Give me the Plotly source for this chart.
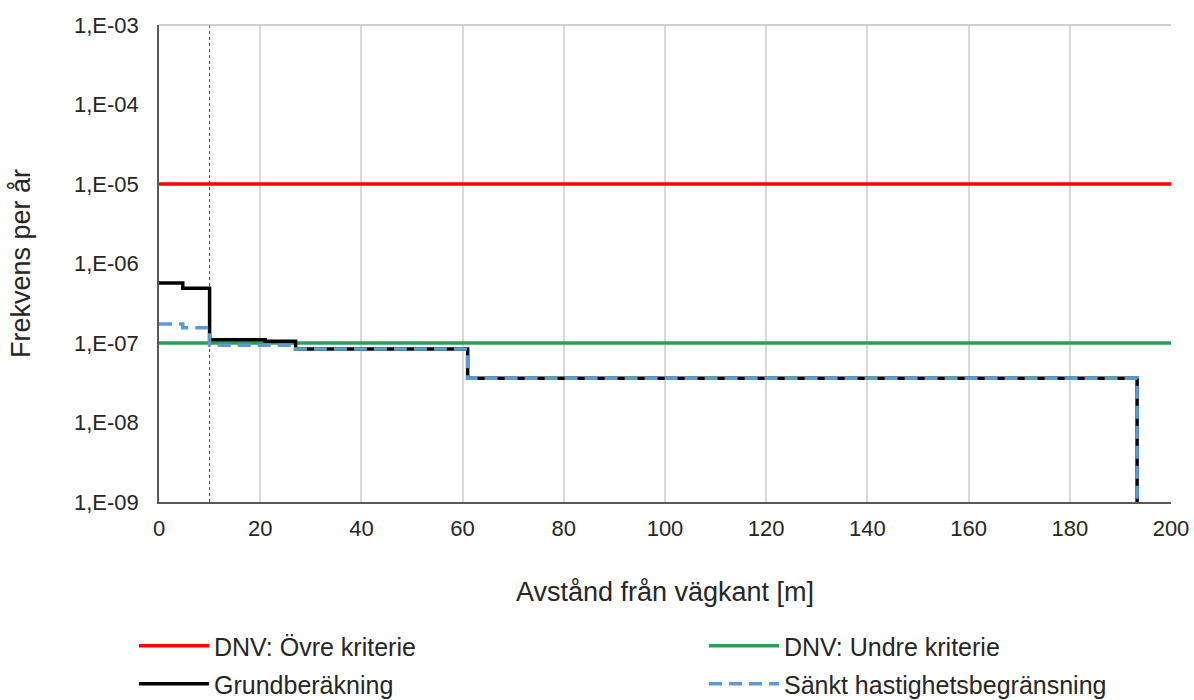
import plotly.graph_objects as go

# Data
x_limits = [0, 200]
ovre_kriterie = [1e-5, 1e-5]
undre_kriterie = [1e-7, 1e-7]

grund_x = [0, 4.7, 10, 21, 27, 61, 193.3, 193.3]
grund_y = [5.7e-7, 4.9e-7, 1.1e-7, 1.05e-7, 8.4e-8, 3.6e-8, 3.6e-8, 1e-9]

sankt_x = [0, 4.7, 10, 27, 61, 193.3, 193.3]
sankt_y = [1.74e-7, 1.56e-7, 9.4e-8, 8.4e-8, 3.6e-8, 3.6e-8, 1e-9]

marker_x = [10, 10]
marker_y = [1e-9, 1e-3]

x_ticks = [0, 20, 40, 60, 80, 100, 120, 140, 160, 180, 200]
y_tickvals = [1e-9, 1e-8, 1e-7, 1e-6, 1e-5, 1e-4, 1e-3]
y_ticktext = ["1,E-09", "1,E-08", "1,E-07", "1,E-06", "1,E-05", "1,E-04", "1,E-03"]

font = "Liberation Sans, Arial, sans-serif"
txt = "#262626"
W, H = 1194, 700

fig = go.Figure()
fig.add_trace(go.Scatter(x=marker_x, y=marker_y, mode="lines", showlegend=False,
                         hoverinfo="skip", line=dict(color="#404040", width=1, dash="dot")))
fig.add_trace(go.Scatter(x=x_limits, y=ovre_kriterie, mode="lines", legend="legend",
                         name="DNV: Övre kriterie", line=dict(color="#FF0000", width=3.5)))
fig.add_trace(go.Scatter(x=x_limits, y=undre_kriterie, mode="lines", legend="legend2",
                         name="DNV: Undre kriterie", line=dict(color="#2E9B57", width=3.5)))
fig.add_trace(go.Scatter(x=grund_x, y=grund_y, mode="lines", line_shape="hv", legend="legend3",
                         name="Grundberäkning", line=dict(color="#000000", width=3.5)))
fig.add_trace(go.Scatter(x=sankt_x, y=sankt_y, mode="lines", line_shape="hv", legend="legend4",
                         name="Sänkt hastighetsbegränsning",
                         line=dict(color="#5B9BD5", width=3.5, dash="13px,7px")))


def leg(px, py):
    return dict(orientation="h", xref="container", yref="container", x=px / W, y=1 - py / H,
                xanchor="left", yanchor="middle", font=dict(size=25, color=txt),
                itemwidth=70, bgcolor="rgba(0,0,0,0)")


fig.update_layout(
    width=W, height=H,
    margin=dict(l=159, r=23, t=25, b=198, autoexpand=False),
    plot_bgcolor="white", paper_bgcolor="white",
    font=dict(family=font, size=22, color=txt),
    showlegend=True,
    legend=leg(134, 646),
    legend2=leg(704, 646),
    legend3=leg(134, 684),
    legend4=leg(704, 684),
    xaxis=dict(range=[0, 200], tickvals=x_ticks, showgrid=True, gridcolor="#D9D9D9",
               gridwidth=1.5, zeroline=False, showline=True, linecolor="#595959", linewidth=1.5,
               ticks="", tickfont=dict(size=22, color=txt), ticklabelstandoff=6, automargin=False,
               title=dict(text="Avstånd från vägkant [m]", font=dict(size=27, color=txt), standoff=42)),
    yaxis=dict(type="log", range=[-9, -3], tickvals=y_tickvals, ticktext=y_ticktext,
               showgrid=False, zeroline=False, showline=True, linecolor="#595959", linewidth=1.5,
               ticks="", tickfont=dict(size=22, color=txt), ticklabelstandoff=14, automargin=False,
               title=dict(text="Frekvens per år", font=dict(size=27, color=txt), standoff=36)),
)
fig.add_shape(type="line", x0=0, x1=1, y0=1, y1=1, xref="paper", yref="paper",
              line=dict(color="#BFBFBF", width=1.5))

fig.write_html("out.html", config={"displayModeBar": False},
               post_script="document.body.style.margin='0';document.body.style.overflow='hidden';")
